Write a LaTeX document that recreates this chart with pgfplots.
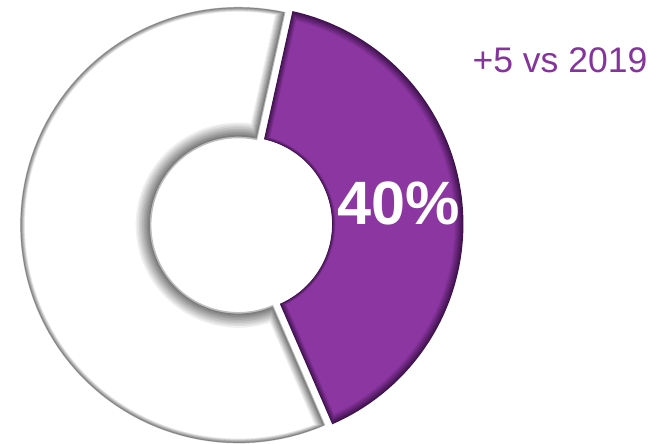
\documentclass[border=0pt]{standalone}
\usepackage{pgfplots}
\pgfplotsset{compat=1.18}
\usepackage{pgfplotstable}
\usepackage{fontspec}
\setmainfont{Liberation Sans}
\definecolor{pface}{RGB}{139,54,161}
\definecolor{pedge}{RGB}{62,18,76}
\definecolor{ptext}{RGB}{133,52,155}
\definecolor{wedge}{RGB}{110,110,110}

\pgfplotstableread{
label value
Share 40
Rest 60
}\donutdata

% geometry (image pixel units, y downwards)
\def\Ro{221}
\def\Ri{88}
\def\wcx{233}
\def\wcy{228}
\def\pcx{240}
\def\pcy{227}

\newcommand{\RadE}[2]{(\q<1.0055 ? (\Ro-(#1)) : (\Ri+(#2)))}
\newcommand{\AngE}[5]{(\q<1.0055 ? ((#1)+asin((#5)/(\Ro-(#3))) + max(0,min(1,\q))*((#2)-(#1)-2*asin((#5)/(\Ro-(#3))))) : ((#2)-asin((#5)/(\Ri+(#4))) - max(0,min(1,(\q-1.0111111)/0.9888889))*((#2)-(#1)-2*asin((#5)/(\Ri+(#4))))))}
\newcommand{\sector}[8]{%
\addplot[#8, domain=0:2, samples=181, variable=\q]
({#6 + \RadE{#3}{#4}*cos(\AngE{#1}{#2}{#3}{#4}{#5})},
 {#7 + \RadE{#3}{#4}*sin(\AngE{#1}{#2}{#3}{#4}{#5})});
}

\begin{document}
\pgfplotstablegetelem{0}{value}\of\donutdata
\pgfmathsetmacro\thA{12.5-90}
\pgfmathsetmacro\thB{\thA+3.6*\pgfplotsretval}
\pgfmathsetmacro\thC{\thA+360}
\begin{tikzpicture}
\begin{axis}[
  width=656pt, height=449pt, scale only axis,
  xmin=0, xmax=656, ymin=0, ymax=449, y dir=reverse,
  hide axis, clip=false]
% white (60%) slice with bevel layers
\sector{\thB}{\thC}{0}{0}{0}{\wcx}{\wcy}{fill=white!55!wedge, draw=none}
\pgfplotsinvokeforeach{1,...,10}{
  \sector{\thB}{\thC}{#1*0.5}{#1*1.6}{#1*1.0}{\wcx}{\wcy}{fill=white!#10!wedge, draw=none}
}
% purple (40%) slice, slightly exploded
\pgfplotsinvokeforeach{0,...,10}{
  \sector{\thA}{\thB}{#1*0.9}{#1*0.35}{#1*0.6}{\pcx}{\pcy}{fill=pface!#10!pedge, draw=none}
}
\node[anchor=base west, inner sep=0pt, text=white, font=\fontsize{62pt}{62pt}\selectfont\bfseries]
  at (axis cs:333,227) {40\%};
\node[anchor=base west, inner sep=0pt, text=ptext, font=\fontsize{36pt}{36pt}\selectfont]
  at (axis cs:470,73) {+5 vs 2019};
\end{axis}
\pgfresetboundingbox
\path (current axis.south west) rectangle (current axis.north east);
\end{tikzpicture}
\end{document}
